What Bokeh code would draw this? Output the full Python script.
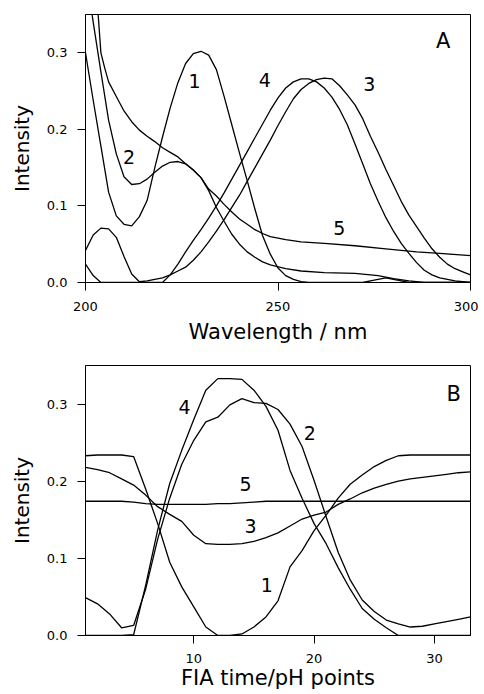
from bokeh.plotting import figure
from bokeh.models import Range1d, FixedTicker, Label, NumeralTickFormatter
from bokeh.layouts import column
from bokeh.embed import file_html
from bokeh.resources import INLINE

# ---------------- Panel A: spectra ----------------
wl_1 = [200, 202, 204, 206, 208, 210, 212, 214, 216, 218, 220, 222, 224, 226, 228, 230,
        232, 234, 236, 238, 240, 242, 244, 246, 248, 250, 252, 254, 256, 258, 272, 275,
        278, 281, 284, 300]
spec_1 = [0.300, 0.238, 0.178, 0.118, 0.087, 0.076, 0.074, 0.086, 0.107, 0.150, 0.190,
          0.228, 0.261, 0.286, 0.299, 0.302, 0.297, 0.278, 0.243, 0.206, 0.169, 0.133,
          0.096, 0.061, 0.037, 0.019, 0.009, 0.004, 0.001, 0.0, 0.0, 0.003, 0.006, 0.003,
          0.0, 0.0]

wl_2 = [200, 202, 204, 206, 208, 210, 212, 214, 216, 218, 220, 222, 224, 226, 228, 230,
        232, 234, 236, 238, 240, 242, 244, 246, 248, 252, 256, 262, 270, 276, 280, 284,
        288, 300]
spec_2 = [0.41, 0.34, 0.275, 0.212, 0.168, 0.138, 0.128, 0.129, 0.135, 0.144, 0.152,
          0.157, 0.158, 0.155, 0.147, 0.137, 0.120, 0.098, 0.080, 0.063, 0.050, 0.040,
          0.033, 0.027, 0.023, 0.018, 0.015, 0.013, 0.012, 0.009, 0.005, 0.002, 0.0, 0.0]

wl_3 = [200, 202, 204, 206, 208, 210, 212, 214, 216, 218, 220, 222, 224, 226, 228, 230,
        232, 234, 236, 238, 240, 242, 244, 246, 248, 250, 252, 254, 256, 258, 260, 262,
        264, 266, 268, 270, 272, 274, 276, 278, 280, 282, 284, 286, 288, 290, 292, 294,
        296, 298, 300]
spec_3 = [0.042, 0.062, 0.071, 0.070, 0.059, 0.034, 0.011, 0.001, 0.002, 0.004, 0.006,
          0.010, 0.015, 0.020, 0.029, 0.040, 0.053, 0.067, 0.082, 0.098, 0.114, 0.132,
          0.150, 0.168, 0.186, 0.205, 0.223, 0.240, 0.252, 0.260, 0.265, 0.267, 0.266,
          0.257, 0.245, 0.232, 0.214, 0.191, 0.170, 0.148, 0.127, 0.106, 0.088, 0.073,
          0.058, 0.044, 0.033, 0.024, 0.018, 0.014, 0.010]

wl_4 = [200, 202, 204, 220, 222, 224, 226, 228, 230, 232, 234, 236, 238, 240, 242, 244,
        246, 248, 250, 252, 254, 256, 258, 260, 262, 264, 266, 268, 270, 272, 274, 276,
        278, 280, 282, 284, 286, 288, 290, 292, 294, 296, 298, 300]
spec_4 = [0.024, 0.009, 0.0, 0.0, 0.010, 0.024, 0.040, 0.055, 0.069, 0.084, 0.100, 0.117,
          0.135, 0.153, 0.171, 0.189, 0.207, 0.225, 0.241, 0.254, 0.262, 0.266, 0.266,
          0.262, 0.254, 0.242, 0.226, 0.206, 0.181, 0.155, 0.129, 0.106, 0.085, 0.067,
          0.051, 0.038, 0.026, 0.016, 0.010, 0.006, 0.004, 0.002, 0.001, 0.0]

wl_5 = [200, 202, 203, 204, 205, 206, 208, 210, 212, 214, 216, 218, 220, 222, 224, 226,
        228, 230, 232, 234, 236, 238, 240, 242, 244, 246, 248, 252, 256, 262, 270, 278,
        286, 292, 300]
spec_5 = [0.60, 0.45, 0.37, 0.30, 0.28, 0.262, 0.243, 0.224, 0.210, 0.199, 0.191, 0.184,
          0.176, 0.170, 0.164, 0.155, 0.147, 0.137, 0.122, 0.113, 0.102, 0.092, 0.083,
          0.076, 0.069, 0.064, 0.060, 0.056, 0.053, 0.051, 0.048, 0.044, 0.040, 0.038,
          0.035]

# ---------------- Panel B: FIA profiles ----------------
fia_x = list(range(1, 34))
prof_1 = [0.233, 0.234, 0.234, 0.234, 0.232, 0.190, 0.145, 0.095, 0.063, 0.037, 0.011,
          0.0, 0.0, 0.002, 0.011, 0.024, 0.045, 0.089, 0.110, 0.136, 0.156, 0.178, 0.196,
          0.208, 0.219, 0.227, 0.233, 0.234, 0.234, 0.234, 0.234, 0.234, 0.234]
prof_2 = [0.049, 0.041, 0.028, 0.010, 0.013, 0.060, 0.125, 0.178, 0.222, 0.253, 0.277,
          0.283, 0.299, 0.307, 0.302, 0.301, 0.293, 0.274, 0.245, 0.201, 0.154, 0.108,
          0.072, 0.046, 0.031, 0.020, 0.015, 0.011, 0.012, 0.015, 0.018, 0.021, 0.024]
prof_3 = [0.218, 0.215, 0.211, 0.203, 0.195, 0.182, 0.167, 0.157, 0.148, 0.130, 0.119,
          0.118, 0.118, 0.119, 0.122, 0.127, 0.133, 0.142, 0.151, 0.156, 0.160, 0.170,
          0.177, 0.185, 0.191, 0.196, 0.200, 0.203, 0.205, 0.207, 0.209, 0.211, 0.212]
prof_4 = [0.0, 0.0, 0.0, 0.0, 0.001, 0.065, 0.137, 0.197, 0.240, 0.280, 0.318, 0.333,
          0.333, 0.332, 0.318, 0.297, 0.266, 0.214, 0.178, 0.145, 0.119, 0.088, 0.060,
          0.035, 0.021, 0.010, 0.0, 0.0, 0.0, 0.0, 0.0, 0.0, 0.0]
prof_5 = [0.174, 0.174, 0.174, 0.174, 0.173, 0.171, 0.170, 0.170, 0.170, 0.170, 0.170,
          0.171, 0.171, 0.172, 0.173, 0.174, 0.174, 0.174, 0.174, 0.174, 0.174, 0.174,
          0.174, 0.174, 0.174, 0.174, 0.174, 0.174, 0.174, 0.174, 0.174, 0.174, 0.174]

ticks_a = [200, 250, 300]
ticks_b = [10, 20, 30]
ticks_y = [0.0, 0.1, 0.2, 0.3]
curve_names = ["1", "2", "3", "4", "5"]

FONT = "DejaVu Sans"


def style(p, xticks, label_standoff, title_standoff):
    p.xaxis.ticker = FixedTicker(ticks=xticks)
    p.yaxis.ticker = FixedTicker(ticks=ticks_y)
    p.yaxis.formatter = NumeralTickFormatter(format="0.0")
    for ax in (p.xaxis[0], p.yaxis[0]):
        ax.major_tick_out = 8
        ax.major_tick_in = 0
        ax.minor_tick_out = 0
        ax.minor_tick_in = 0
        ax.axis_line_color = "black"
        ax.major_tick_line_color = "black"
        ax.major_label_text_font = FONT
        ax.major_label_text_font_size = "13px"
        ax.major_label_text_color = "black"
        ax.major_label_standoff = 10
        ax.axis_label_text_font = FONT
        ax.axis_label_text_font_size = "21px"
        ax.axis_label_text_font_style = "normal"
        ax.axis_label_text_color = "black"
    p.yaxis.axis_label_text_font_size = "20px"
    p.yaxis.axis_label_standoff = 10
    p.xaxis.major_label_standoff = label_standoff
    p.xaxis.axis_label_standoff = title_standoff
    p.xgrid.visible = False
    p.ygrid.visible = False
    p.outline_line_color = "black"
    p.outline_line_width = 1
    p.outline_line_alpha = 1


def add_text(p, x, y, t, size="19px"):
    p.add_layout(Label(x=x, y=y, text=t, text_align="center", text_baseline="middle",
                       text_font=FONT, text_font_size=size, text_color="black"))


# Panel A
pa = figure(width=478, height=349, output_backend="svg", toolbar_location=None,
            x_range=Range1d(200, 300), y_range=Range1d(0, 0.35),
            min_border_left=85, min_border_right=8, min_border_top=14, min_border_bottom=67)
style(pa, ticks_a, 11, 6)
pa.xaxis.axis_label = "Wavelength / nm"
pa.yaxis.axis_label = "Intensity"
for wl, sp in [(wl_1, spec_1), (wl_2, spec_2), (wl_3, spec_3), (wl_4, spec_4), (wl_5, spec_5)]:
    pa.line(wl, sp, line_color="black", line_width=1.3)

add_text(pa, 228.3, 0.2635, curve_names[0])
add_text(pa, 211.3, 0.164, curve_names[1])
add_text(pa, 273.7, 0.259, curve_names[2])
add_text(pa, 246.6, 0.265, curve_names[3])
add_text(pa, 265.9, 0.0717, curve_names[4])
add_text(pa, 292.9, 0.315, "A", size="21px")

# Panel B
pb = figure(width=478, height=345, output_backend="svg", toolbar_location=None,
            x_range=Range1d(1, 33), y_range=Range1d(0, 0.35),
            min_border_left=85, min_border_right=8, min_border_top=16, min_border_bottom=59)
style(pb, ticks_b, 10, 0)
pb.xaxis.axis_label = "FIA time/pH points"
pb.yaxis.axis_label = "Intensity"
for pr in [prof_1, prof_2, prof_3, prof_4, prof_5]:
    pb.line(fia_x, pr, line_color="black", line_width=1.3)

add_text(pb, 16.07, 0.066, curve_names[0])
add_text(pb, 19.65, 0.262, curve_names[1])
add_text(pb, 14.72, 0.1424, curve_names[2])
add_text(pb, 9.23, 0.296, curve_names[3])
add_text(pb, 14.3, 0.1965, curve_names[4])
add_text(pb, 31.6, 0.313, "B", size="21px")

layout = column(pa, pb, spacing=0)
open("out.html", "w").write(file_html(layout, INLINE))
